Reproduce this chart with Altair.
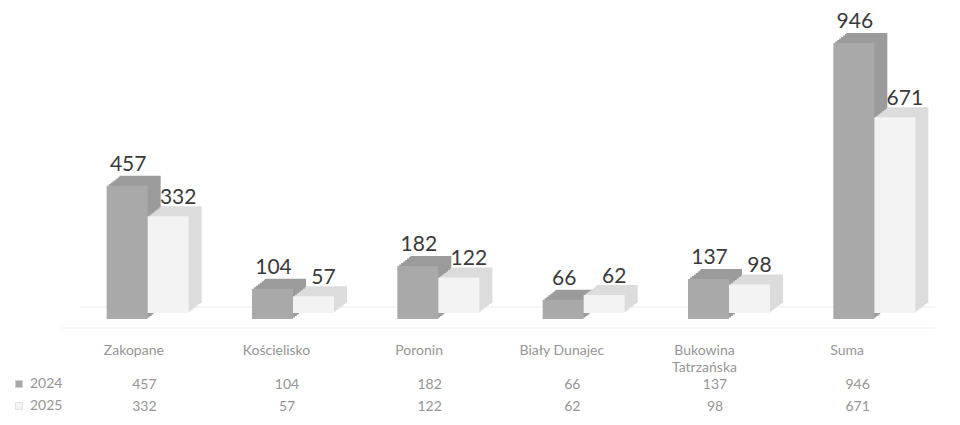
import altair as alt
import pandas as pd

categories = ["Zakopane", "Kościelisko", "Poronin", "Biały Dunajec", "Bukowina Tatrzańska", "Suma"]
years = ["2024", "2025"]
values_2024 = [457, 104, 182, 66, 137, 946]
values_2025 = [332, 57, 122, 62, 98, 671]

rows = []
for c, a, b in zip(categories, values_2024, values_2025):
    rows.append({"cat": c, "year": "2024", "value": a})
    rows.append({"cat": c, "year": "2025", "value": b})
df = pd.DataFrame(rows)

FONT = "Lato"
TXT = "#959595"
BAR_W = 41
front_colors = ["#a9a9a9", "#f3f3f3"]
depth_colors = ["#9b9b9b", "#dcdcdc"]
bar_dx = [-BAR_W / 2, BAR_W / 2]
year_shift = [0, -6]
label_dx = [1, 10]
label_dy = [-15, -12]

yscale = alt.Scale(domain=[0, 946], range=[311, 35], nice=False, zero=True)
x_bar = alt.X("cat:N", sort=categories, axis=None,
              scale=alt.Scale(domain=categories, range=[67, 939], paddingInner=0.436, paddingOuter=0.218))
y_bar = alt.Y("value:Q", axis=None, scale=yscale)
color = alt.Color("year:N", scale=alt.Scale(domain=years, range=front_colors),
                  legend=alt.Legend(orient="none", legendX=4, legendY=369, direction="vertical", title=None,
                                    symbolType="square", symbolSize=49, labelFont=FONT, labelFontSize=14,
                                    labelColor=TXT, labelOffset=4, rowPadding=8, padding=0,
                                    symbolStrokeColor="#c8c8c8", symbolStrokeWidth=0.5))

base = alt.Chart(df)
bar_layers = []

# faint floor lines
floor = alt.Chart(pd.DataFrame({"v": [0]}))
bar_layers.append(floor.mark_rule(color="#ebebeb", strokeWidth=1, yOffset=-12).encode(
    y=alt.Y("v:Q", scale=yscale, axis=None), x=alt.value(72), x2=alt.value(927)))
bar_layers.append(floor.mark_rule(color="#ebebeb", strokeWidth=1, yOffset=9).encode(
    y=alt.Y("v:Q", scale=yscale, axis=None), x=alt.value(54), x2=alt.value(927)))

for i, yr in enumerate(years):
    sub = base.transform_filter(alt.datum.year == yr)
    for d in [1.5, 3, 4.5, 6, 7.5, 9, 10]:
        bar_layers.append(sub.mark_bar(color=depth_colors[i], width=BAR_W,
                                       xOffset=bar_dx[i] + 1.3 * d, yOffset=year_shift[i] - d).encode(
            x=x_bar, y=y_bar))
    bar_layers.append(sub.mark_bar(width=BAR_W, xOffset=bar_dx[i], yOffset=year_shift[i]).encode(
        x=x_bar, y=y_bar, color=color))
    bar_layers.append(sub.mark_text(font=FONT, fontSize=21, color="#3a3a3a", baseline="alphabetic",
                                    xOffset=bar_dx[i] + label_dx[i], yOffset=year_shift[i] + label_dy[i]).encode(
        x=x_bar, y=y_bar, text="value:Q"))

bars = alt.layer(*bar_layers)

x_tab = alt.X("cat:N", sort=categories,
              scale=alt.Scale(domain=categories, range=[65, 921], paddingInner=0, paddingOuter=0),
              axis=alt.Axis(orient="bottom", title=None, domain=False, ticks=False, grid=False,
                            labelFont=FONT, labelFontSize=14, labelColor=TXT, labelPadding=5,
                            labelOffset=-11, labelAngle=0, labelLineHeight=17, labelLimit=300,
                            labelExpr="indexof(datum.label, 'Tatrza') >= 0 ? split(datum.label, ' ') : datum.label"))
y_tab = alt.Y("year:N", sort=years, axis=None, scale=alt.Scale(type="point", domain=years, range=[377, 399], padding=0))
table = base.mark_text(font=FONT, fontSize=14, color=TXT, baseline="middle").encode(
    x=x_tab, y=y_tab, text="value:Q")

chart = alt.layer(bars, table).resolve_scale(x="independent", y="independent").properties(
    width=944, height=330, padding=0
).configure_view(stroke=None)

chart.save("out.html", embed_options={"renderer": "svg", "actions": False})
